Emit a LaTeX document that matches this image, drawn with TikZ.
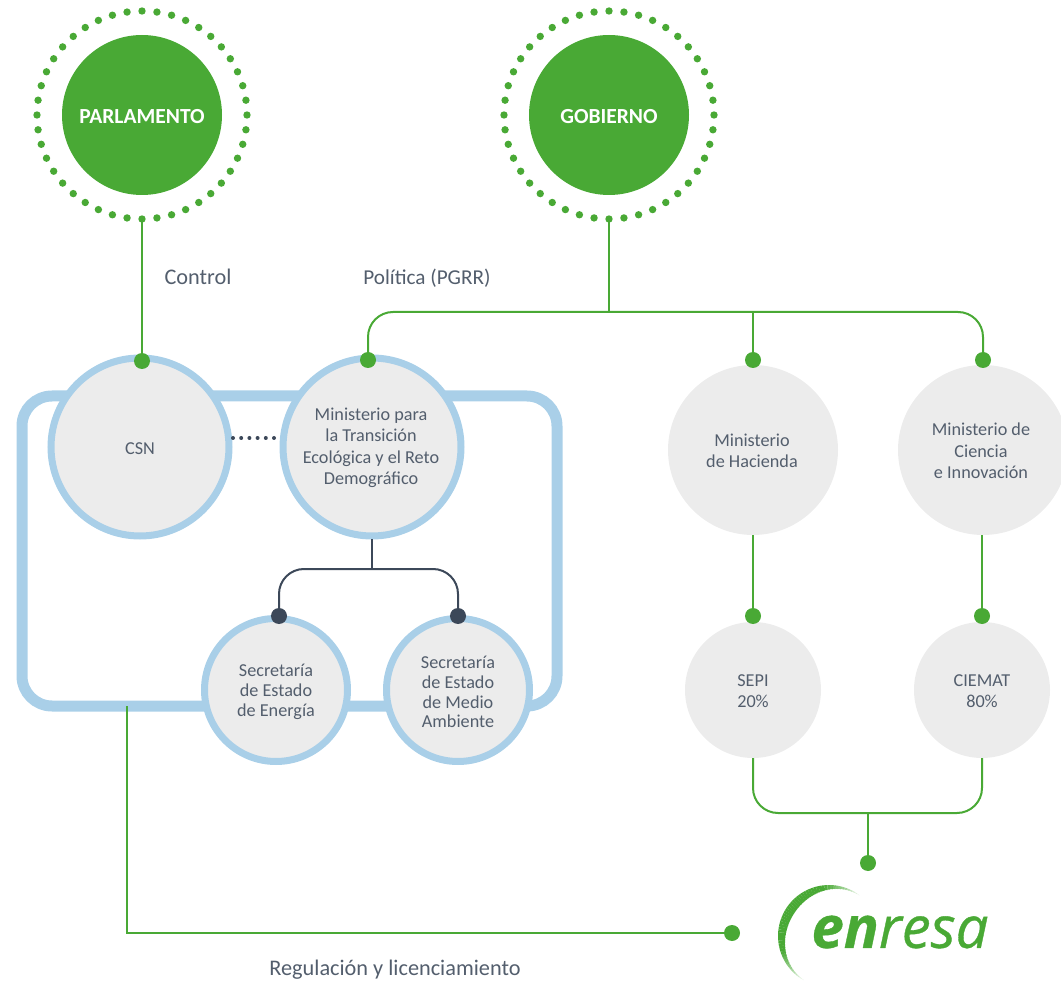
\documentclass[tikz,border=0pt]{standalone}
\usepackage{fontspec}
\setmainfont{Carlito}
\newfontfamily\logofont{Open Sans}
\definecolor{gr}{HTML}{49A935}
\definecolor{bl}{HTML}{A9CFE8}
\definecolor{gy}{HTML}{ECECEC}
\definecolor{dk}{HTML}{3C4859}
\colorlet{tx}{dk!88}
\tikzset{
 lbl/.style={font=\fontsize{18.2}{21.5}\selectfont,text=tx,align=center,inner sep=0},
 lbls/.style={font=\fontsize{18.2}{19.8}\selectfont,text=tx,align=center,inner sep=0},
 captxt/.style={font=\fontsize{22.3}{25}\selectfont,text=tx},
 captxts/.style={font=\fontsize{21.2}{25}\selectfont,text=tx},
 bigc/.style={circle,fill=gr,inner sep=0,minimum size=160pt},
 bigt/.style={text=white,inner sep=0,font=\fontsize{21.5}{25}\selectfont\bfseries},
 ringc/.style={circle,inner sep=0,minimum size=208pt},
 bordc/.style={circle,fill=gy,draw=bl,line width=7pt,inner sep=0},
 plainc/.style={circle,fill=gy,inner sep=0},
 gdot/.style={circle,fill=gr,inner sep=0,minimum size=16pt},
 ddot/.style={circle,fill=dk,inner sep=0,minimum size=16pt},
 gline/.style={draw=gr,line width=2pt},
 dline/.style={draw=dk,line width=2pt},
}
\begin{document}
\begin{tikzpicture}[x=1pt,y=-1pt]
\useasboundingbox (0,0) rectangle (1061,981);
% frame behind the circles
\draw[bl,line width=11pt,rounded corners=30pt] (22,396) rectangle (557,706);
% top circles
\node[ringc] (rp) at (142,115) {};
\node[ringc] (rg) at (609,115) {};
\foreach \k in {0,...,43}{
  \pgfmathsetmacro{\a}{\k*360/44}
  \fill[gr] (142,115) ++(\a:105pt and 104pt) circle (3.7pt);
  \fill[gr] (609,115) ++(\a:105pt and 104pt) circle (3.7pt);
}
\node[bigc] (parl) at (142,115) {};
\node[bigc] (gob) at (609,115) {};
\node[bigt] (parlt) at (142,117) {PARLAMENTO};
\node[bigt] (gobt) at (609,117) {GOBIERNO};
% circles
\node[bordc,minimum size=178pt] (csn) at (140,447) {};
\node[bordc,minimum size=178pt] (mit) at (372,447) {};
\node[bordc,minimum size=143pt] (see) at (276,690) {};
\node[bordc,minimum size=143pt] (sem) at (458,690) {};
\node[plainc,minimum size=170pt] (hac) at (753,450) {};
\node[plainc,minimum size=170pt] (cie) at (983,450) {};
\node[plainc,minimum size=136pt] (sepi) at (753,690) {};
\node[plainc,minimum size=136pt] (ciemat) at (982,690) {};
% circle texts
\node[lbl] (t1) at (140,449) {CSN};
\node[lbl] (t2) at (371,448) {Ministerio para\\la Transición\\Ecológica y el Reto\\Demográfico};
\node[lbls] (t3) at (276,692) {Secretaría\\de Estado\\de Energía};
\node[lbls] (t4) at (458,692) {Secretaría\\de Estado\\de Medio\\Ambiente};
\node[lbl] (t5) at (752,451) {Ministerio\\de Hacienda};
\node[lbl] (t6) at (981,451) {Ministerio de\\Ciencia\\e Innovación};
\node[lbl] (t7) at (753,691) {SEPI\\20\%};
\node[lbl] (t8) at (982,691) {CIEMAT\\80\%};
% junction coordinates
\coordinate (jg) at (609,312);
\coordinate (jb) at (868,813);
\coordinate (jd) at (372,569);
\coordinate (jh) at (753,312);
\coordinate (frameout) at (127,706);
\coordinate (cornerL) at (127,933);
% dots
\node[gdot] (d1) at (142,361) {};
\node[gdot] (d2) at (368,360) {};
\node[gdot] (d3) at (753,360) {};
\node[gdot] (d4) at (983,360) {};
\node[gdot] (d5) at (753,616) {};
\node[gdot] (d6) at (982,616) {};
\node[gdot] (d7) at (868,863) {};
\node[gdot] (d8) at (732,933) {};
\node[ddot] (d9) at (279,616) {};
\node[ddot] (d10) at (458,616) {};
% connectors
\draw[gline] (rp.south) -- (d1);
\draw[gline] (rg.south) -- (jg);
\draw[gline,rounded corners=25pt] (d2.center) |- (jg) -| (d4.center);
\draw[gline] (jh) -- (d3);
\draw[gline] (hac.south) -- (d5);
\draw[gline] (cie.south -| d6) -- (d6);
\draw[gline,rounded corners=25pt] (sepi.south) |- (jb) -| (ciemat.south);
\draw[gline] (jb) -- (d7);
\draw[gline] (frameout) -- (cornerL) -- (d8);
\draw[dline] (mit.south) -- (jd);
\draw[dline,rounded corners=25pt] (d9.center) |- (jd) -| (d10.center);
\foreach \x in {233,241.2,249.4,257.6,265.8,274}{\fill[dk] (\x,438) circle (2pt);}
% captions
\node[captxt] (c1) at (198,277) {Control};
\node[captxts] (c2) at (427,278) {Política (PGRR)};
\node[captxt] (c3) at (395,970) {Regulación y licenciamiento};
% logo
\foreach \i in {0,...,59}{
  \pgfmathsetmacro{\ang}{50+\i*3.22}
  \pgfmathsetmacro{\wid}{0.4+9*sin(180*\i/59)^1.5}
  \pgfmathsetmacro{\op}{min(1,1.5*sin(180*\i/59))}
  \pgfmathsetmacro{\rad}{51-\wid/2}
  \draw[gr,opacity=\op,line width=\wid pt] (829,936) ++(\ang:\rad pt) arc[start angle=\ang,end angle=\ang+3.4,radius=\rad pt];
}
\node[gr,inner sep=0,font=\logofont\fontsize{58}{58}\selectfont\itshape\addfontfeature{FakeBold=0.6}] (logo) at (900,932) {\textbf{en}resa};
\end{tikzpicture}
\end{document}
